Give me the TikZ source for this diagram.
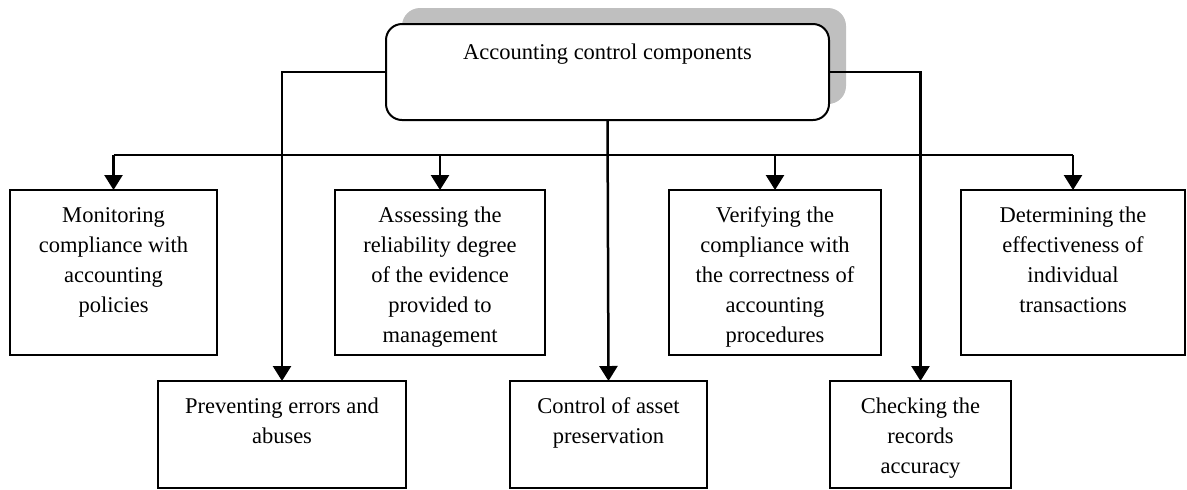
\documentclass[tikz,border=0pt]{standalone}
\usepackage{fontspec}
\setmainfont{Liberation Serif}
\usetikzlibrary{arrows.meta}
\newcommand{\mybox}[3]{\parbox[c][#2][t]{#1}{\centering\rule{0pt}{16pt}#3}}
\definecolor{shadowgray}{RGB}{191,191,191}
\begin{document}
\begin{tikzpicture}[x=0.5pt,y=-0.5pt,
  every node/.style={font=\fontsize{11.25}{15}\selectfont},
  leaf/.style={draw=black,line width=0.9pt,inner sep=0pt,outer sep=0pt,anchor=north west},
  conn/.style={line width=1.25pt,-{Triangle[length=7.5pt,width=9pt]}},
  busline/.style={line width=1.25pt}]
\useasboundingbox (0,0) rectangle (1187,489);
% shadow of the top box
\fill[shadowgray,rounded corners=9pt] (402,8) rectangle (846,104);
\node[draw=black,fill=white,line width=1pt,rounded corners=8pt,inner sep=0pt,outer sep=0pt,anchor=north west]
  (top) at (386,24) {\parbox[c][48pt][t]{221.5pt}{\centering\rule{0pt}{17.5pt}Accounting control components}};
% upper row
\node[leaf] (mon) at (10,190) {\mybox{103.5pt}{82.5pt}{Monitoring\\compliance with\\accounting\\policies}};
\node[leaf] (ass) at (335,190) {\mybox{105pt}{82.5pt}{Assessing the\\reliability degree\\of the evidence\\provided to\\management}};
\node[leaf] (ver) at (669,190) {\mybox{106pt}{82.5pt}{Verifying the\\compliance with\\the correctness of\\accounting\\procedures}};
\node[leaf] (det) at (961,190) {\mybox{112pt}{82.5pt}{Determining the\\effectiveness of\\individual\\transactions}};
% lower row
\node[leaf] (pre) at (158,381) {\mybox{124pt}{53.5pt}{Preventing errors and\\abuses}};
\node[leaf] (ctl) at (510,381) {\mybox{98.5pt}{53.5pt}{Control of asset\\preservation}};
\node[leaf] (chk) at (830,381) {\mybox{90.5pt}{53.5pt}{Checking the\\records\\accuracy}};
% connectors
\coordinate (bus) at (607.5,155);
\draw[busline] (mon.north |- bus) -- (det.north |- bus);
\draw[conn] (top.south) -- (ctl.north);
\draw[conn] (mon.north |- bus) -- (mon.north);
\draw[conn] (ass.north |- bus) -- (ass.north);
\draw[conn] (ver.north |- bus) -- (ver.north);
\draw[conn] (det.north |- bus) -- (det.north);
\draw[conn] (top.west) -| (pre.north);
\draw[conn] (top.east) -| (chk.north);
\end{tikzpicture}
\end{document}
